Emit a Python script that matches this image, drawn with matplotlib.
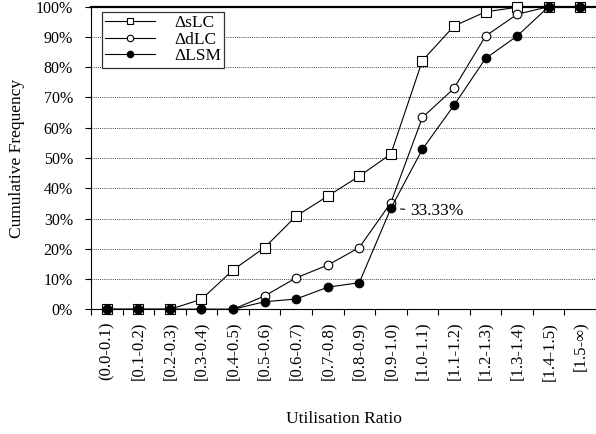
import matplotlib
matplotlib.use("Agg")
import matplotlib.pyplot as plt
import numpy as np

categories = ["(0.0-0.1)", "[0.1-0.2)", "[0.2-0.3)", "[0.3-0.4)", "[0.4-0.5)",
              "[0.5-0.6)", "[0.6-0.7)", "[0.7-0.8)", "[0.8-0.9)", "[0.9-1.0)",
              "[1.0-1.1)", "[1.1-1.2)", "[1.2-1.3)", "[1.3-1.4)", "[1.4-1.5)",
              "[1.5-\u221e)"]
slc = [0, 0, 0, 3.3, 13.0, 20.4, 30.8, 37.4, 44.0, 51.3, 82.2, 93.6, 98.3, 99.8, 100, 100]
dlc = [0, 0, 0, 0, 0, 4.4, 10.4, 14.6, 20.4, 35.2, 63.4, 73.0, 90.3, 97.5, 100, 100]
lsm = [0, 0, 0, 0, 0, 2.5, 3.4, 7.3, 8.8, 33.33, 52.9, 67.4, 82.9, 90.3, 100, 100]
yticks = list(range(0, 101, 10))

plt.rcParams['font.family'] = ['Liberation Serif', 'DejaVu Serif']

fig = plt.figure(figsize=(5.96, 4.34), dpi=100)
ax = fig.add_axes([91/596, (434-309.3)/434, 1 - 91/596, (309.3-6.7)/434])

x = np.arange(len(categories))
ax.plot(x, slc, color='black', lw=0.8, marker='s', ms=6.5, mfc='white', mec='black',
        mew=0.8, label='\u0394sLC', clip_on=False, zorder=3)
ax.plot(x, dlc, color='black', lw=0.8, marker='o', ms=6.2, mfc='white', mec='black',
        mew=0.8, label='\u0394dLC', clip_on=False, zorder=4)
ax.plot(x, lsm, color='black', lw=0.8, marker='o', ms=6.2, mfc='black', mec='black',
        mew=0.8, label='\u0394LSM', clip_on=False, zorder=5)

ax.set_xlim(-0.5, len(categories) - 0.5)
ax.set_ylim(0, 100)
ax.set_yticks(yticks)
ax.set_yticklabels([f"{v}%" for v in yticks], fontsize=11.5)
ax.yaxis.grid(True, linestyle=(0, (1, 1.2)), color='#444444', lw=0.7)
ax.set_axisbelow(True)

ax.set_xticks(x)
ax.set_xticklabels(categories, rotation=90, fontsize=12)
ax.tick_params(axis='x', which='major', length=0, pad=9)
ax.set_xticks(np.arange(len(categories) + 1) - 0.5, minor=True)
ax.tick_params(axis='x', which='minor', length=4, width=0.8, direction='out')
ax.tick_params(axis='y', length=4, width=0.8, direction='out', pad=9)

ax.spines['right'].set_visible(False)
ax.spines['top'].set_linewidth(1.6)
ax.spines['left'].set_linewidth(0.8)
ax.spines['bottom'].set_linewidth(0.8)

ax.annotate('33.33%', xy=(9, 33.33), xytext=(14, -2), textcoords='offset points',
            fontsize=12.5, va='center', ha='left',
            arrowprops=dict(arrowstyle='-', color='black', lw=0.8, shrinkA=2, shrinkB=7))

ax.set_ylabel('Cumulative Frequency', fontsize=12.5, labelpad=8)
ax.set_xlabel('Utilisation Ratio', fontsize=12.5, labelpad=22)

leg = ax.legend(loc='upper left', bbox_to_anchor=(0.021, 0.982), fontsize=12.5,
                frameon=True, fancybox=False, edgecolor='#333333', framealpha=1,
                handlelength=2.9, borderpad=0.18, labelspacing=0.02,
                handletextpad=1.1, borderaxespad=0, markerscale=0.75)
leg.get_frame().set_linewidth(0.9)

fig.savefig('out.png', dpi=100)
